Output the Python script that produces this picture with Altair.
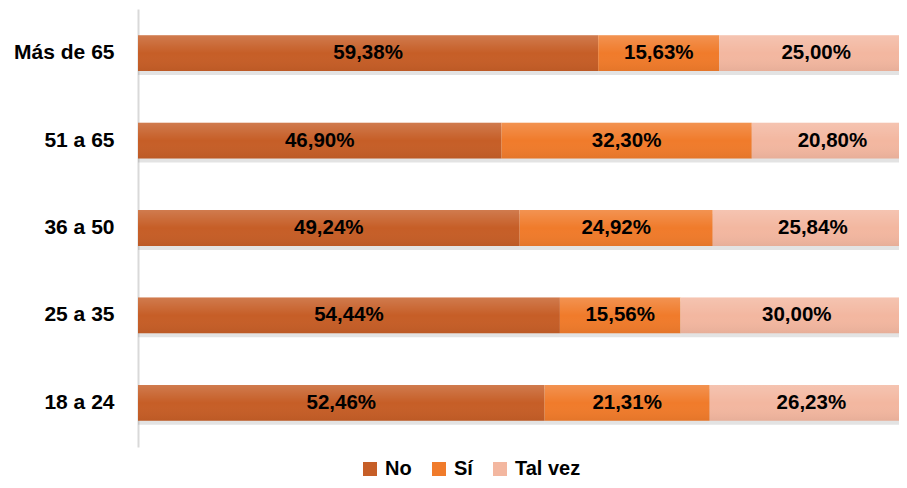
import altair as alt
import pandas as pd

groups = ["Más de 65", "51 a 65", "36 a 50", "25 a 35", "18 a 24"]
series = ["No", "Sí", "Tal vez"]
no_vals = [59.38, 46.90, 49.24, 54.44, 52.46]
si_vals = [15.63, 32.30, 24.92, 15.56, 21.31]
tal_vals = [25.00, 20.80, 25.84, 30.00, 26.23]
colors = ["#c65e27", "#f07b2b", "#f3b7a0"]

rows = []
for i, g in enumerate(groups):
    for k, (s, vals) in enumerate(zip(series, [no_vals, si_vals, tal_vals])):
        v = vals[i]
        rows.append({"grupo": g, "serie": s, "orden": k, "valor": v,
                     "etiqueta": f"{v:.2f}".replace(".", ",") + "%"})
df = pd.DataFrame(rows)

FONT = "Liberation Sans"

base = alt.Chart(df).transform_stack(
    stack="valor", groupby=["grupo"], as_=["x0", "x1"],
    sort=[alt.SortField("orden", order="ascending")]
).transform_calculate(mid="(datum.x0 + datum.x1) / 2")

xscale = alt.Scale(domain=[0, 100], range=[0, 775], nice=False, zero=True)
yenc = alt.Y("grupo:N", sort=groups, title=None,
             scale=alt.Scale(paddingInner=0.59, paddingOuter=0.3),
             axis=alt.Axis(domainColor="#d9d9d9", domainWidth=2, ticks=False,
                           labelPadding=24, labelFontSize=21, labelFont=FONT,
                           labelFontWeight="bold", labelColor="#000000", grid=False))

shadow = base.mark_bar(color="#7f7f7f", opacity=0.22, yOffset=4, clip=True).encode(
    x=alt.X("x0:Q", scale=xscale, axis=None), x2="x1:Q", y=yenc)

bars = base.mark_bar(clip=True, strokeWidth=0).encode(
    x=alt.X("x0:Q", scale=xscale, axis=None), x2="x1:Q", y=yenc,
    color=alt.Color("serie:N", sort=series,
                    scale=alt.Scale(domain=series, range=colors),
                    legend=alt.Legend(title=None, orient="none", direction="horizontal",
                                      legendX=222, legendY=450, symbolType="square",
                                      symbolSize=196, symbolStrokeWidth=0,
                                      labelFontSize=20, labelFont=FONT,
                                      labelFontWeight="bold", labelColor="#000000",
                                      labelOffset=5, columnPadding=17, padding=0)))

gloss = base.mark_bar(clip=True, strokeWidth=0, color=alt.Gradient(
    gradient="linear",
    stops=[alt.GradientStop(color="rgba(255,255,255,0.18)", offset=0),
           alt.GradientStop(color="rgba(255,255,255,0.0)", offset=0.5),
           alt.GradientStop(color="rgba(0,0,0,0.05)", offset=1)],
    x1=0, x2=0, y1=0, y2=1)).encode(
    x=alt.X("x0:Q", scale=xscale, axis=None), x2="x1:Q", y=yenc)

labels = base.mark_text(font=FONT, fontSize=20.5, fontWeight="bold", color="#000000",
                        baseline="middle", align="center").encode(
    x=alt.X("mid:Q", scale=xscale, axis=None), y=yenc, text="etiqueta:N")

chart = alt.layer(shadow, bars, gloss, labels).properties(
    width=761, height=438, background="white",
    autosize=alt.AutoSizeParams(type="none"),
    padding={"left": 130, "top": 1, "right": 0, "bottom": 33},
).configure_view(strokeWidth=0, stroke="transparent")

chart.save("out.html", embed_options={"renderer": "svg", "actions": False})
